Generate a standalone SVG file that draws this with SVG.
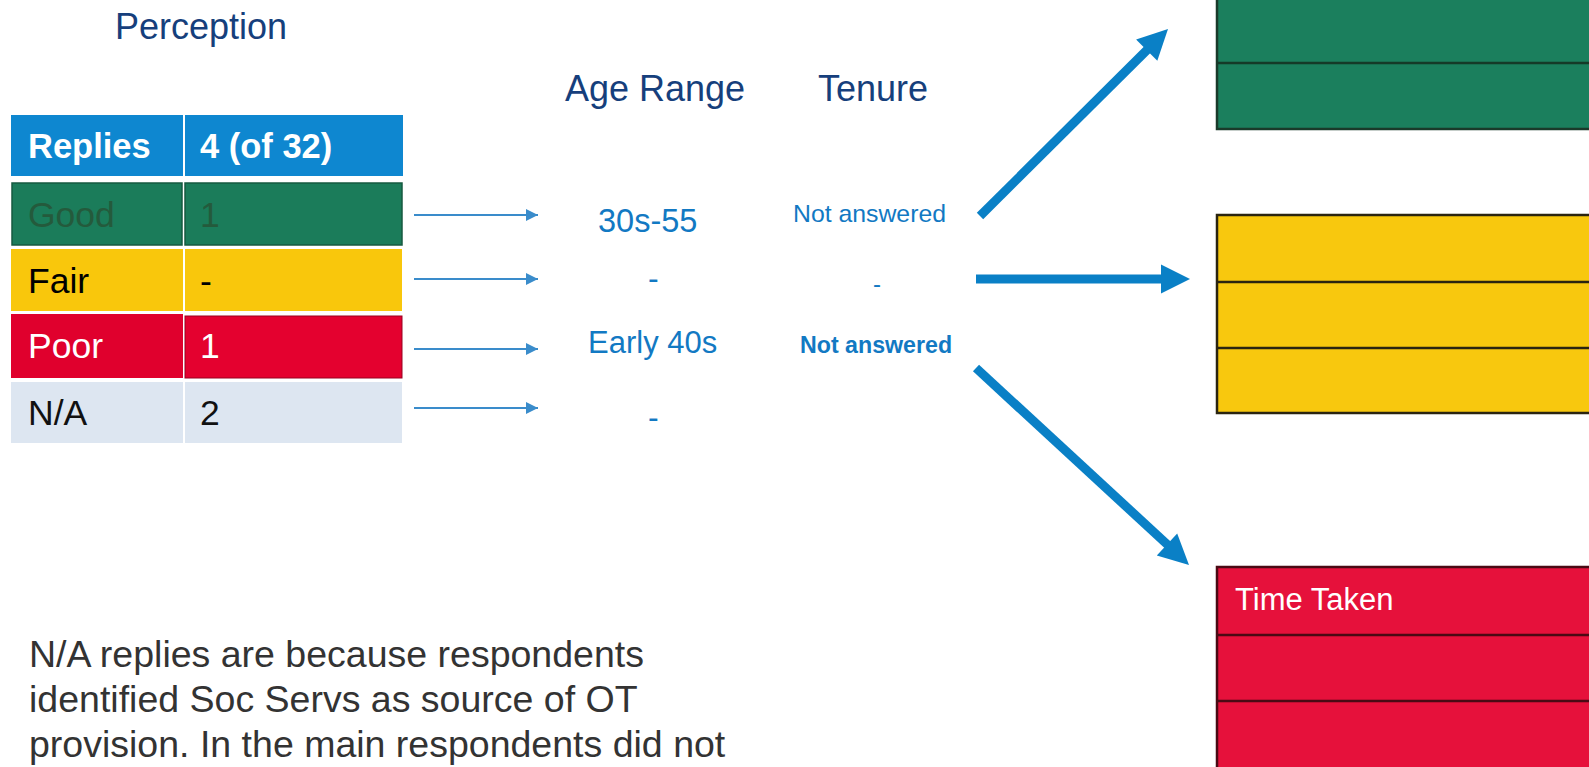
<svg xmlns="http://www.w3.org/2000/svg" width="1589" height="767" viewBox="0 0 1589 767">
<style>
text{font-family:"Liberation Sans",Arial,sans-serif}
.hd{font-size:36px;fill:#163f7c}
.tb{font-size:35.5px}
.th{font-size:34.5px;font-weight:bold;fill:#ffffff}
.lbl{fill:#1279c3}
.sm{stroke:#3a8ccb;stroke-width:1.8;fill:none}
.big{stroke:#0a80c6;stroke-width:9;fill:none;stroke-linecap:butt}
.head{fill:#0a80c6}
.bx{stroke-width:2.5}
.note{font-size:37.5px;fill:#333333}
</style>
<defs>
<marker id="sa" markerUnits="userSpaceOnUse" markerWidth="14" markerHeight="12" refX="12" refY="6" orient="auto">
<path d="M0,0 L12,6 L0,12 z" fill="#3a8ccb"/>
</marker>
</defs>
<rect width="1589" height="767" fill="#ffffff"/>

<g id="headings">
<text class="hd" x="115" y="39">Perception</text>
<text class="hd" x="565" y="101">Age Range</text>
<text class="hd" x="818" y="101">Tenure</text>
</g>

<g id="table">
<rect x="11" y="115" width="172" height="61" fill="#0e87d0"/>
<rect x="185" y="115" width="218" height="61" fill="#0e87d0"/>
<text class="th" x="28" y="158">Replies</text>
<text class="th" x="200" y="158">4 (of 32)</text>

<rect x="12" y="183" width="170" height="62" fill="#1b7c5a" stroke="#165a40" stroke-width="1.5"/>
<rect x="185" y="183" width="217" height="62" fill="#1b7c5a" stroke="#165a40" stroke-width="1.5"/>
<text class="tb" x="28" y="227" fill="#245a3c">Good</text>
<text class="tb" x="200" y="227" fill="#245a3c">1</text>

<rect x="11" y="249" width="172" height="62" fill="#f9c70c"/>
<rect x="185" y="249" width="217" height="62" fill="#f9c70c"/>
<text class="tb" x="28" y="293" fill="#000000">Fair</text>
<text class="tb" x="200" y="293" fill="#000000">-</text>

<rect x="11" y="314" width="172" height="64" fill="#e0002d"/>
<rect x="185" y="316" width="217" height="62" fill="#e4012f" stroke="#9a0020" stroke-width="1"/>
<text class="tb" x="28" y="358" fill="#ffffff">Poor</text>
<text class="tb" x="200" y="358" fill="#ffffff">1</text>

<rect x="11" y="382" width="172" height="61" fill="#dde6f1"/>
<rect x="185" y="382" width="217" height="61" fill="#dde6f1"/>
<text class="tb" x="28" y="425" fill="#111111">N/A</text>
<text class="tb" x="200" y="425" fill="#111111">2</text>
</g>

<g id="age-range">
<text class="lbl" x="598" y="232" font-size="32.5px">30s-55</text>
<text class="lbl" x="648" y="289" font-size="32px">-</text>
<text class="lbl" x="588" y="353" font-size="31px">Early 40s</text>
<text class="lbl" x="648" y="428" font-size="32px">-</text>
</g>

<g id="tenure">
<text class="lbl" x="793" y="222" font-size="24.8px">Not answered</text>
<text class="lbl" x="873" y="292" font-size="24px">-</text>
<text class="lbl" x="800" y="353" font-size="23.2px" font-weight="bold">Not answered</text>
</g>

<g id="box-green">
<rect class="bx" x="1217" y="-5" width="380" height="134" fill="#1b7f5d" stroke="#1a3a2a"/>
<line x1="1217" y1="63" x2="1589" y2="63" stroke="#153a28" stroke-width="2.5"/>
</g>

<g id="box-yellow">
<rect class="bx" x="1217" y="215" width="380" height="198" fill="#f8c80e" stroke="#2a2410"/>
<line x1="1217" y1="282" x2="1589" y2="282" stroke="#2a2410" stroke-width="2.5"/>
<line x1="1217" y1="348" x2="1589" y2="348" stroke="#2a2410" stroke-width="2.5"/>
</g>

<g id="box-red">
<rect class="bx" x="1217" y="567" width="380" height="210" fill="#e6113b" stroke="#4a0a14"/>
<line x1="1217" y1="635" x2="1589" y2="635" stroke="#4a0a14" stroke-width="2.5"/>
<line x1="1217" y1="701" x2="1589" y2="701" stroke="#4a0a14" stroke-width="2.5"/>
<text x="1235" y="610" font-size="31px" fill="#ffffff">Time Taken</text>
</g>

<g id="connectors">
<line class="sm" x1="414" y1="215" x2="538" y2="215" marker-end="url(#sa)"/>
<line class="sm" x1="414" y1="279" x2="538" y2="279" marker-end="url(#sa)"/>
<line class="sm" x1="414" y1="349" x2="538" y2="349" marker-end="url(#sa)"/>
<line class="sm" x1="414" y1="408" x2="538" y2="408" marker-end="url(#sa)"/>
<line class="big" x1="980" y1="216" x2="1150" y2="47"/>
<polygon class="head" points="1168,29 1157.3,60.8 1136.1,39.6"/>
<line class="big" x1="976" y1="279" x2="1165" y2="279" stroke-width="10"/>
<polygon class="head" points="1190,279 1161,264.5 1161,293.5"/>
<line class="big" x1="976" y1="368" x2="1170" y2="547"/>
<polygon class="head" points="1189,565 1156.8,555.6 1177.2,533.6"/>
</g>

<g id="note">
<text class="note" x="29" y="667">N/A replies are because respondents</text>
<text class="note" x="29" y="712">identified Soc Servs as source of OT</text>
<text class="note" x="29" y="757">provision. In the main respondents did not</text>
</g>
</svg>
